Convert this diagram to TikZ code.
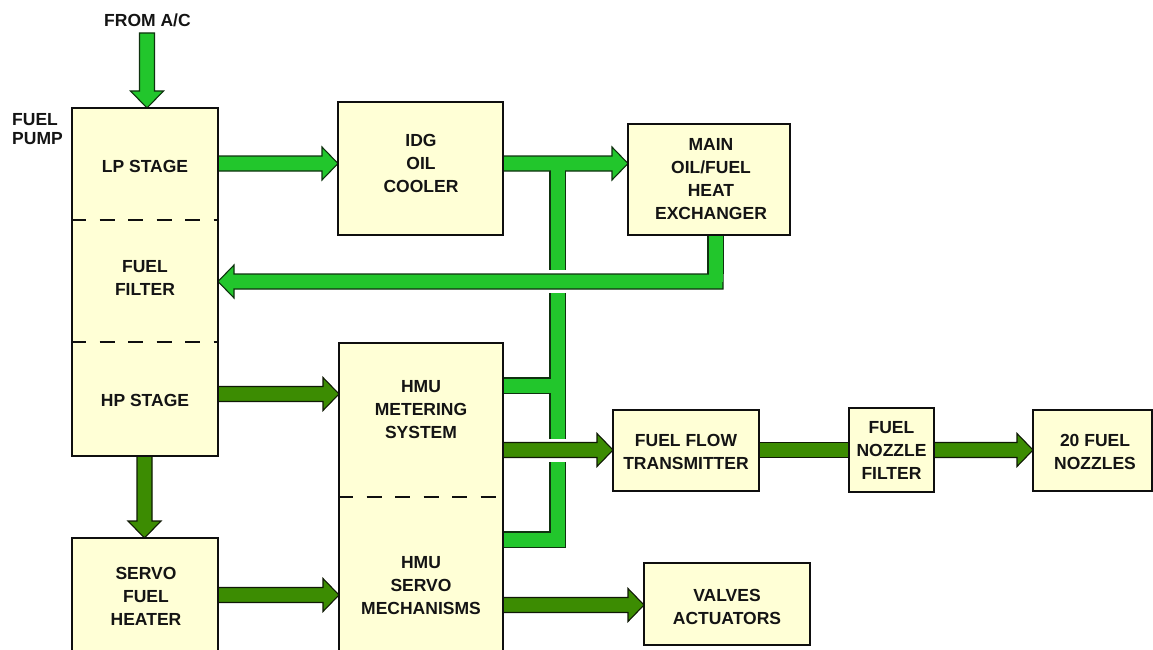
\documentclass[tikz,border=0pt]{standalone}
\usepackage{fontspec}
\newfontfamily\lbf{Liberation Sans}
\usetikzlibrary{calc}
\pgfdeclarelayer{bg}
\pgfsetlayers{bg,main}
\definecolor{lgreen}{RGB}{34,198,44}
\definecolor{dgreen}{RGB}{60,140,2}
\definecolor{lgout}{RGB}{15,50,15}
\definecolor{dgout}{RGB}{15,25,5}
\definecolor{boxfill}{RGB}{255,255,214}
\definecolor{boxline}{RGB}{15,15,15}
\definecolor{txt}{RGB}{20,20,20}
\begin{document}
\begin{tikzpicture}[x=1pt,y=-1pt,
  box/.style={draw=boxline, line width=1.3pt, fill=boxfill, inner sep=0pt, outer sep=0pt},
  lbl/.style={font=\lbf\bfseries\fontsize{17.5pt}{23pt}\selectfont, text=txt, align=center, inner sep=0pt},
  sect/.style={draw=boxline, line width=1.3pt, dash pattern=on 15pt off 13.5pt, dash phase=1pt},
  lightarrow/.style={fill=lgreen, draw=lgout, line width=1.1pt, line join=miter},
  darkarrow/.style={fill=dgreen, draw=dgout, line width=1.1pt, line join=miter},
  lpipeout/.style={draw=lgout, line width=16.2pt, line join=miter},
  lpipecore/.style={draw=lgreen, line width=14pt, line join=miter},
  gapline/.style={draw=white, line width=23pt},
  fatR/.style={to path={($(\tikztostart)+(0,-7.5)$) -- ($(\tikztotarget)+(-16,-7.5)$) -- ($(\tikztotarget)+(-16,-16.5)$) -- (\tikztotarget) -- ($(\tikztotarget)+(-16,16.5)$) -- ($(\tikztotarget)+(-16,7.5)$) -- ($(\tikztostart)+(0,7.5)$) -- cycle}},
  fatL/.style={to path={($(\tikztostart)+(0,-7.5)$) -- ($(\tikztotarget)+(16,-7.5)$) -- ($(\tikztotarget)+(16,-16.5)$) -- (\tikztotarget) -- ($(\tikztotarget)+(16,16.5)$) -- ($(\tikztotarget)+(16,7.5)$) -- ($(\tikztostart)+(0,7.5)$) -- cycle}},
  fatD/.style={to path={($(\tikztostart)+(-7.5,0)$) -- ($(\tikztotarget)+(-7.5,-17)$) -- ($(\tikztotarget)+(-16.5,-17)$) -- (\tikztotarget) -- ($(\tikztotarget)+(16.5,-17)$) -- ($(\tikztotarget)+(7.5,-17)$) -- ($(\tikztostart)+(7.5,0)$) -- cycle}},
  fatbar/.style={to path={($(\tikztostart)+(0,-7.5)$) rectangle ($(\tikztotarget)+(0,7.5)$)}}
]
\useasboundingbox (0,0) rectangle (1153,650);

% ---------- boxes ----------
\node[box, minimum width=146pt, minimum height=348pt] (pump) at (145,282) {};
\draw[sect] (pump.west |- 0,220) -- (pump.east |- 0,220);
\draw[sect] (pump.west |- 0,342) -- (pump.east |- 0,342);
\node[box, minimum width=165pt, minimum height=133pt] (idg) at (420.5,168.5) {};
\node[box, minimum width=162pt, minimum height=111pt] (hx) at (709,179.5) {};
\node[box, minimum width=164pt, minimum height=324pt] (hmu) at (421,505) {};
\draw[sect] (hmu.west |- 0,497) -- (hmu.east |- 0,497);
\node[box, minimum width=146pt, minimum height=130pt] (heater) at (145,603) {};
\node[box, minimum width=146pt, minimum height=81pt] (fft) at (686,450.5) {};
\node[box, minimum width=85pt, minimum height=84pt] (nzf) at (891.5,450) {};
\node[box, minimum width=119pt, minimum height=81pt] (noz) at (1092.5,450.5) {};
\node[box, minimum width=166pt, minimum height=82pt] (valves) at (727,604) {};

% ---------- labels ----------
\node[lbl] (fromac) at (147.5,20) {FROM A/C};
\node[font=\lbf\bfseries\fontsize{17.5pt}{18.5pt}\selectfont, text=txt, align=left, inner sep=0pt, anchor=west] (pumpL) at (12,129) {FUEL\\PUMP};
\node[lbl] (lpL) at (145,166) {LP STAGE};
\node[lbl] (filtL) at (145,277.5) {FUEL\\FILTER};
\node[lbl] (hpL) at (145,400) {HP STAGE};
\node[lbl] (idgL) at (421,163) {IDG\\OIL\\COOLER};
\node[lbl] (hxL) at (711,179.5) {MAIN\\OIL/FUEL\\HEAT\\EXCHANGER};
\node[lbl] (hmumL) at (421,410) {HMU\\METERING\\SYSTEM};
\node[lbl] (hmusL) at (421,586) {HMU\\SERVO\\MECHANISMS};
\node[lbl] (heatL) at (146,596.5) {SERVO\\FUEL\\HEATER};
\node[lbl] (fftL) at (686,452) {FUEL FLOW\\TRANSMITTER};
\node[lbl] (nzfL) at (891.5,450) {FUEL\\NOZZLE\\FILTER};
\node[lbl] (nozL) at (1095,452) {20 FUEL\\NOZZLES};
\node[lbl] (valL) at (727,606.5) {VALVES\\ACTUATORS};

% ---------- arrows and pipes ----------
\begin{pgfonlayer}{bg}
  % from A/C
  \coordinate (ac0) at (147,33);
  \coordinate (ac1) at (147,0 |- pump.north);
  \draw[lightarrow,fatD] (ac0) to (ac1);
  % LP stage -> IDG
  \coordinate (lpo) at (pump.east |- 0,163.5);
  \coordinate (idgi) at (idg.west |- lpo);
  \draw[lightarrow,fatR] (lpo) to (idgi);
  % IDG -> HX with branch network
  \coordinate (idgo) at (idg.east |- 0,163.5);
  \coordinate (hxi) at (hx.west |- idgo);
  \draw[lightarrow,fatR] (idgo) to (hxi);
  \coordinate (jtop) at (557.5,171);
  \coordinate (jcore) at (557.5,164);
  \coordinate (jmid) at (557.5,385.5);
  \coordinate (jbot) at (557.5,539.5);
  \coordinate (hmum) at (hmu.east |- jmid);
  \coordinate (hmub) at (hmu.east |- jbot);
  \draw[lpipeout] (jtop) -- (jbot) -- (hmub);
  \draw[lpipeout] (jmid) -- (hmum);
  \draw[lpipecore] (jcore) -- (jbot) -- (hmub);
  \draw[lpipecore] (jmid) -- (hmum);
  % return from HX to fuel filter
  \coordinate (rtop) at (715.5,0 |- hx.south);
  \coordinate (rbend) at (715.5,274);
  \coordinate (rcore) at (715.5,282);
  \coordinate (rcorner) at (723,281.5);
  \coordinate (rtip) at (pump.east |- rcorner);
  \draw[gapline] (rcorner) -- (rtip);
  \draw[lightarrow,fatL] (rcorner) to (rtip);
  \draw[lpipeout] (rtop) -- (rbend);
  \draw[lpipecore] (rtop) -- (rcore);
  % HP stage -> HMU
  \coordinate (hpo) at (pump.east |- 0,394);
  \coordinate (hmui) at (hmu.west |- hpo);
  \draw[darkarrow,fatR] (hpo) to (hmui);
  % pump -> servo fuel heater
  \coordinate (pdo) at (144.5,0 |- pump.south);
  \coordinate (hti) at (144.5,0 |- heater.north);
  \draw[darkarrow,fatD] (pdo) to (hti);
  % heater -> HMU servo
  \coordinate (hto) at (heater.east |- 0,595);
  \coordinate (hmsi) at (hmu.west |- hto);
  \draw[darkarrow,fatR] (hto) to (hmsi);
  % HMU -> fuel flow transmitter
  \coordinate (hmfo) at (hmu.east |- 0,450);
  \coordinate (ffti) at (fft.west |- hmfo);
  \draw[gapline] (hmfo) -- (ffti);
  \draw[darkarrow,fatR] (hmfo) to (ffti);
  % FFT -> nozzle filter
  \coordinate (ffto) at (fft.east |- 0,450);
  \coordinate (nzfi) at (nzf.west |- ffto);
  \draw[darkarrow,fatbar] (ffto) to (nzfi);
  % nozzle filter -> nozzles
  \coordinate (nzfo) at (nzf.east |- 0,450);
  \coordinate (nozi) at (noz.west |- nzfo);
  \draw[darkarrow,fatR] (nzfo) to (nozi);
  % HMU servo -> valves
  \coordinate (hmvo) at (hmu.east |- 0,605);
  \coordinate (vali) at (valves.west |- hmvo);
  \draw[darkarrow,fatR] (hmvo) to (vali);
\end{pgfonlayer}
\end{tikzpicture}
\end{document}
